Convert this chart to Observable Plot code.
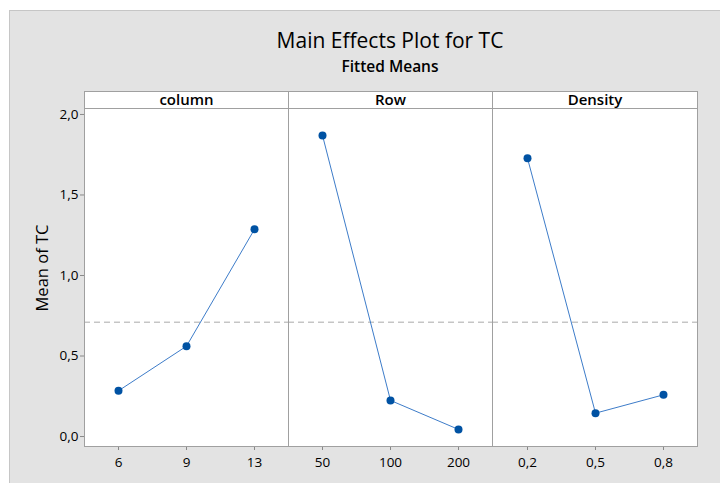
<!DOCTYPE html>
<html>
<head>
<meta charset="utf-8">
<script src="https://cdn.jsdelivr.net/npm/d3@7"></script>
<script src="https://cdn.jsdelivr.net/npm/@observablehq/plot@0.6"></script>
<style>
  html, body { margin: 0; padding: 0; background: #ffffff; }
  body { width: 720px; height: 483px; position: relative; overflow: hidden; font-family: "Open Sans", "Noto Sans", sans-serif; }
  #bg { position: absolute; left: 9px; top: 10px; width: 711px; height: 473px; background: #e3e3e3; border-left: 1px solid #c6c6c6; border-top: 1px solid #c6c6c6; box-sizing: border-box; }
  .title { position: absolute; left: 0; width: 780px; text-align: center; color: #000; }
  #t1 { top: 26px; font-size: 21px; }
  #t2 { top: 55px; font-size: 15.5px; font-weight: 600; }
  .strip { position: absolute; top: 91px; height: 18px; background: #fff; border: 1px solid #a0a0a0; box-sizing: border-box; text-align: center; font-size: 15px; font-weight: 600; line-height: 14px; color: #000; }
  .panel { position: absolute; top: 0; }
  #ylab { position: absolute; left: 41px; top: 268px; transform: translate(-50%, -50%) rotate(-90deg); font-size: 16.5px; color: #000; white-space: nowrap; }
</style>
</head>
<body>
<div id="bg"></div>
<div class="title" id="t1">Main Effects Plot for TC</div>
<div class="title" id="t2">Fitted Means</div>
<div id="root"></div>
<div id="ylab"></div>
<script>
// ---- data ----
const factorNames = ["column", "Row", "Density"];
const columnLevels = ["6", "9", "13"];
const columnMeans = [0.284, 0.561, 1.287];
const rowLevels = ["50", "100", "200"];
const rowMeans = [1.870, 0.224, 0.044];
const densityLevels = ["0,2", "0,5", "0,8"];
const densityMeans = [1.728, 0.145, 0.259];
const grandMean = 0.71;
const yTicks = [0, 0.5, 1.0, 1.5, 2.0];
const yLabel = "Mean of TC";

// ---- layout ----
const panelLefts = [84, 288, 492];
const panelWidths = [204, 204, 205];
const plotTop = 108, plotBottom = 446, H = 483;
const lineColor = "#3d7cc9", dotColor = "#0052a3", frameColor = "#a0a0a0";

document.getElementById("ylab").textContent = yLabel;

const factors = [
  {name: factorNames[0], levels: columnLevels, means: columnMeans},
  {name: factorNames[1], levels: rowLevels, means: rowMeans},
  {name: factorNames[2], levels: densityLevels, means: densityMeans}
];

const root = document.getElementById("root");
factors.forEach((f, i) => {
  const data = f.levels.map((l, j) => ({level: l, mean: f.means[j]}));
  const first = i === 0;
  const ml = first ? panelLefts[0] : 0;
  const marks = [
    Plot.frame({fill: "#ffffff", stroke: "none"}),
    Plot.ruleY([grandMean], {stroke: "#a9a9a9", strokeDasharray: "6,4", strokeWidth: 1}),
    Plot.line(data, {x: "level", y: "mean", stroke: lineColor, strokeWidth: 1}),
    Plot.dot(data, {x: "level", y: "mean", r: 4, fill: dotColor, stroke: "none"}),
    Plot.axisX({tickSize: 4, tickPadding: 7, stroke: "#888", fill: "#000", fontSize: 13.5, label: null}),
    Plot.frame({stroke: frameColor, strokeWidth: 1})
  ];
  if (first) {
    marks.push(Plot.axisY(yTicks, {tickSize: 4, tickPadding: 2, stroke: "#888", fill: "#000", fontSize: 13.5, tickFormat: d => d3.format(".1f")(d).replace(".", ","), label: null}));
  }
  const svg = Plot.plot({
    width: ml + panelWidths[i],
    height: H,
    marginLeft: ml,
    marginRight: 0,
    marginTop: plotTop,
    marginBottom: H - plotBottom,
    style: {background: "transparent", fontFamily: "'Open Sans', 'Noto Sans', sans-serif", overflow: "visible"},
    x: {type: "point", domain: f.levels, padding: 0.5},
    y: {domain: [-0.062, 2.037], axis: null},
    marks
  });
  svg.classList.add("panel");
  svg.style.left = (panelLefts[i] - ml) + "px";
  svg.style.position = "absolute";
  root.appendChild(svg);

  const strip = document.createElement("div");
  strip.className = "strip";
  strip.style.left = panelLefts[i] + "px";
  strip.style.width = (panelWidths[i] + 1) + "px";
  strip.textContent = f.name;
  root.appendChild(strip);
});
</script>
</body>
</html>
